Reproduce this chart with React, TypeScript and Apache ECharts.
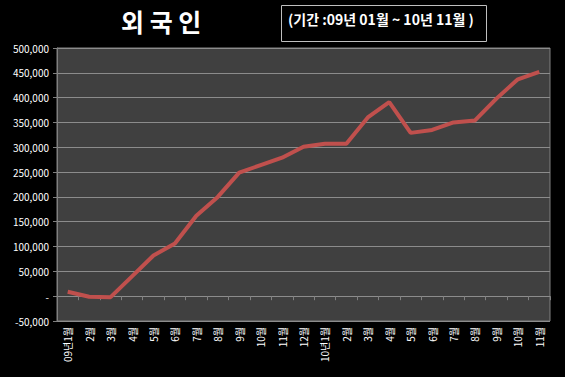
import React, { useEffect, useRef } from "react";
import * as echarts from "echarts";

const categories = [
  "09년1월", "2월", "3월", "4월", "5월", "6월", "7월", "8월", "9월", "10월", "11월", "12월",
  "10년1월", "2월", "3월", "4월", "5월", "6월", "7월", "8월", "9월", "10월", "11월",
];
const values = [
  9000, -1000, -2000, 40000, 82000, 106000, 162000, 200000, 249000, 264000, 279000, 301000,
  307000, 307000, 360000, 391000, 329000, 335000, 350000, 354000, 398000, 437000, 452000,
];
const titleText = "외 국 인";
const periodText = "(기간 :09년 01월 ~ 10년 11월 )";

export default function App() {
  const ref = useRef<HTMLDivElement>(null);
  useEffect(() => {
    const chart = echarts.init(ref.current!, null, { renderer: "svg" });
    chart.setOption({
      animation: false,
      backgroundColor: "#000000",
      textStyle: { fontFamily: "'Noto Sans CJK KR', 'Noto Sans', sans-serif" },
      graphic: [
        {
          type: "text",
          left: 121,
          top: 8,
          style: {
            text: titleText,
            fill: "#ffffff",
            font: "bold 25px 'Noto Sans CJK KR', sans-serif",
          },
        },
        {
          type: "rect",
          shape: { x: 281.5, y: 5.5, width: 205, height: 36 },
          style: { fill: "none", stroke: "#bfbfbf", lineWidth: 1 },
        },
        {
          type: "text",
          left: 288,
          top: 12,
          style: {
            text: periodText,
            fill: "#ffffff",
            font: "bold 14px 'Noto Sans CJK KR', sans-serif",
          },
        },
      ],
      grid: {
        left: 57,
        right: 15,
        top: 48,
        bottom: 56,
        show: true,
        backgroundColor: "#404040",
        borderColor: "#808080",
        borderWidth: 1,
      },
      xAxis: {
        type: "category",
        data: categories,
        boundaryGap: true,
        axisLine: { show: false },
        axisTick: { show: true, alignWithLabel: false, length: 4, lineStyle: { color: "#808080" } },
        axisLabel: {
          rotate: 90,
          interval: 0,
          color: "#ffffff",
          fontSize: 10,
          margin: 6,
        },
        splitLine: { show: false },
      },
      yAxis: {
        type: "value",
        min: -50000,
        max: 500000,
        interval: 50000,
        axisLine: { show: true, lineStyle: { color: "#808080" } },
        axisTick: { show: true, length: 4, lineStyle: { color: "#808080" } },
        axisLabel: {
          color: "#ffffff",
          fontSize: 10,
          margin: 8,
          formatter: (v: number) => (v === 0 ? "-" : v.toLocaleString("en-US")),
        },
        splitLine: { show: true, lineStyle: { color: "#8c8c8c", width: 1 } },
      },
      series: [
        {
          type: "line",
          data: values,
          symbol: "none",
          lineStyle: { color: "#c0504d", width: 4 },
        },
      ],
    });
    return () => chart.dispose();
  }, []);
  return <div ref={ref} style={{ width: 565, height: 377, position: "absolute", left: 0, top: 0 }} />;
}
